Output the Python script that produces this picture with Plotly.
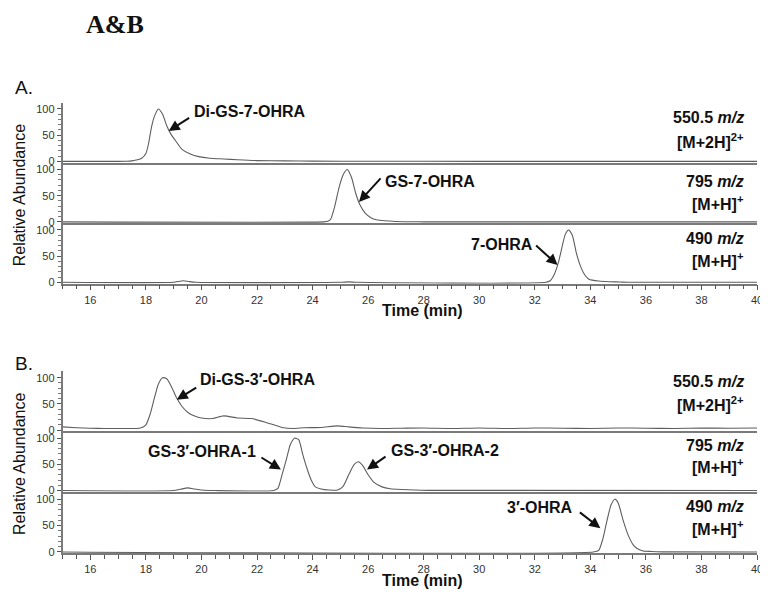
import plotly.graph_objects as go

# the page body has an 8 px margin: the figure is placed at (8, 8) in the window
OFF = 8
W, H = 768 - OFF, 595 - OFF

# ---------------- data (time in min, relative abundance in %) ----------------
time_a1 = [15, 16, 17, 17.3, 17.5, 17.7, 17.85, 18.0, 18.1, 18.2, 18.3, 18.45, 18.6, 18.75, 18.9,
           19.1, 19.3, 19.6, 19.9, 20.3, 20.8, 21.3, 22.0, 23.0, 24.0, 26, 30, 35, 40]
abund_a1 = [0, 0, 0, 0.3, 1, 3, 6, 15, 35, 65, 85, 100, 90, 68, 52,
            37, 23, 14, 9, 6, 4.5, 3, 1.5, 1, 0.5, 0.2, 0, 0, 0]

time_a2 = [15, 24.4, 24.55, 24.65, 24.8, 24.95, 25.1, 25.25, 25.4, 25.55, 25.7, 25.9, 26.1, 26.3,
           26.6, 27.0, 27.5, 28, 40]
abund_a2 = [0, 0, 1, 5, 30, 65, 90, 100, 85, 55, 33, 16, 8, 4,
            2, 0.8, 0.3, 0, 0]

time_a3 = [15, 19.0, 19.15, 19.35, 19.55, 19.8, 25.0, 25.3, 25.6, 32.4, 32.55, 32.7, 32.85, 33.0,
           33.1, 33.22, 33.35, 33.5, 33.65, 33.8, 33.95, 34.3, 34.7, 35.1, 35.5, 40]
abund_a3 = [0, 0, 1.5, 3, 1.5, 0, 0, 0.8, 0, 0, 3, 15, 38, 72,
            92, 100, 90, 55, 30, 14, 6, 2.5, 1.2, 0.5, 0, 0]

time_b1 = [15, 15.5, 16, 16.5, 17, 17.5, 17.8, 18.0, 18.15, 18.3, 18.45, 18.6, 18.75, 18.9,
           19.1, 19.3, 19.55, 19.8, 20.0, 20.4, 20.8, 21.3, 21.8, 22.3, 22.9, 23.3, 23.7,
           24.3, 24.9, 25.3, 25.8, 26.5, 27.2, 28, 29, 30, 31, 32, 33, 34, 35, 36, 37, 38, 39, 40]
abund_b1 = [6, 4.5, 3.5, 3, 3, 3, 4, 10, 30, 60, 88, 100, 98, 85,
            62, 45, 32, 26, 23, 22, 27, 23, 22, 15, 5, 3, 4.5,
            5, 8, 6, 4, 3, 3.5, 4, 3, 4, 3, 4, 3.5, 3, 4, 3.5, 3, 4, 3.5, 4]

time_b2 = [15, 19.0, 19.25, 19.5, 19.75, 20.0, 20.5, 22.6, 22.75, 22.9, 23.05, 23.2, 23.35, 23.5,
           23.65, 23.8, 23.95, 24.1, 24.3, 24.6, 24.9, 25.1, 25.3, 25.5, 25.65, 25.8, 26.0,
           26.2, 26.5, 26.8, 27.2, 27.7, 28.2, 40]
abund_b2 = [0, 0, 2.5, 5, 3, 1, 0, 0, 4, 30, 58, 88, 100, 97,
            68, 42, 20, 7, 3, 1, 1, 8, 30, 50, 55, 48, 30,
            16, 7, 3.5, 2, 1, 0.3, 0]

time_b3 = [15, 34.1, 34.3, 34.45, 34.6, 34.75, 34.88, 35.0, 35.18, 35.36, 35.55, 35.7, 35.9,
           36.2, 36.6, 40]
abund_b3 = [0, 0, 3, 25, 60, 90, 100, 93, 60, 32, 13, 6, 2,
            1, 0.3, 0]

channel_mz = ["550.5", "795", "490"]
channel_ion = ["[M+2H]<sup>2+</sup>", "[M+H]<sup>+</sup>", "[M+H]<sup>+</sup>"]

x_ticks = [16, 18, 20, 22, 24, 26, 28, 30, 32, 34, 36, 38, 40]
y_ticks = [0, 50, 100]
y_minor = [10, 20, 30, 40, 60, 70, 80, 90]

# peak labels: (subplot, text, arrow tip time, arrow tip abundance, tail dx, tail dy,
#               text x px, text y px, text anchor)
peaks = [
    (1, "Di-GS-7-OHRA", 18.82, 58, 22, -14, 193, 112, "left"),
    (2, "GS-7-OHRA", 25.67, 38, 23, -25, 386, 183, "left"),
    (3, "7-OHRA", 32.82, 33, -23, -21, 539, 247, "right"),
    (4, "Di-GS-3′-OHRA", 19.11, 58, 21, -13, 200, 383, "left"),
    (5, "GS-3′-OHRA-1", 22.86, 40, -21, -13, 260, 455, "right"),
    (5, "GS-3′-OHRA-2", 25.96, 40, 20, -14, 392, 454, "left"),
    (6, "3′-OHRA", 34.36, 45, -22, -17, 580, 512, "right"),
]

traces = [(time_a1, abund_a1), (time_a2, abund_a2), (time_a3, abund_a3),
          (time_b1, abund_b1), (time_b2, abund_b2), (time_b3, abund_b3)]

# ---------------- layout geometry (window pixels) ----------------
def px_x(p):
    return (p - OFF) / W

def px_y(p):
    return 1 - (p - OFF) / H

x_dom = [px_x(63), px_x(763)]
y_doms_px = [(103.5, 164), (164.5, 225), (225.5, 286),
             (374.5, 435), (435.5, 496), (497, 558)]
label_rows_px = [(118, 142), (183, 205), (240, 262),
                 (385, 407), (449, 470), (511, 532)]

FONT = "Liberation Sans, Arial, sans-serif"
LINE_C = "#7a7a7a"
TRACE_C = "#5e5e5e"

fig = go.Figure()
layout = dict(
    width=W, height=H, autosize=False,
    margin=dict(l=0, r=0, t=0, b=0),
    paper_bgcolor="white", plot_bgcolor="white",
    showlegend=False,
    font=dict(family=FONT, color="#111"),
)

for i, (tx, ya) in enumerate(traces):
    n = i + 1
    fig.add_trace(go.Scatter(
        x=tx, y=ya, mode="lines",
        line=dict(color=TRACE_C, width=1.1, shape="spline", smoothing=0.6),
        xaxis=f"x{n}", yaxis=f"y{n}", hoverinfo="skip",
    ))
    bottom = n in (3, 6)
    top_px, bot_px = y_doms_px[i]
    xa = dict(
        domain=x_dom, range=[15, 40], anchor=f"y{n}",
        showline=True, linecolor=LINE_C, linewidth=1.5,
        showgrid=False, zeroline=False,
        showticklabels=bottom,
        ticks="outside" if bottom else "",
        tickmode="array", tickvals=x_ticks, ticktext=[str(v) for v in x_ticks],
        ticklen=5, tickwidth=1, tickcolor="#555",
        tickfont=dict(family=FONT, size=11, color="#333"),
        ticklabeloverflow="allow",
    )
    if bottom:
        xa["minor"] = dict(dtick=0.5, tick0=15, ticks="outside", ticklen=4,
                           tickwidth=1, tickcolor="#555")
    ya_ = dict(
        domain=[px_y(bot_px), px_y(top_px)], range=[-2.5, 112], anchor=f"x{n}",
        showline=True, linecolor=LINE_C, linewidth=1.5,
        showgrid=False, zeroline=False,
        tickmode="array", tickvals=y_ticks, ticktext=[str(v) for v in y_ticks],
        ticks="outside", ticklen=4, tickwidth=1, tickcolor="#555",
        tickfont=dict(family=FONT, size=11, color="#333"),
        minor=dict(tickmode="array", tickvals=y_minor, ticks="outside",
                   ticklen=2.5, tickwidth=1, tickcolor="#777"),
    )
    layout[f"xaxis{n}" if n > 1 else "xaxis"] = xa
    layout[f"yaxis{n}" if n > 1 else "yaxis"] = ya_

fig.update_layout(**layout)

ann = []
# title and panel letters
ann.append(dict(text="<b>A&amp;B</b>", x=px_x(85), y=px_y(25), xref="paper", yref="paper",
                xanchor="left", yanchor="middle", showarrow=False,
                font=dict(family="Liberation Serif, Times New Roman, serif", size=26, color="#111")))
ann.append(dict(text="A.", x=px_x(13), y=px_y(88), xref="paper", yref="paper",
                xanchor="left", yanchor="middle", showarrow=False,
                font=dict(family=FONT, size=19, color="#111")))
ann.append(dict(text="B.", x=px_x(13), y=px_y(367), xref="paper", yref="paper",
                xanchor="left", yanchor="middle", showarrow=False,
                font=dict(family=FONT, size=19, color="#111")))

# axis titles
for yc in (197, 468):
    ann.append(dict(text="Relative Abundance", x=px_x(19), y=px_y(yc), xref="paper", yref="paper",
                    xanchor="center", yanchor="middle", textangle=-90, showarrow=False,
                    font=dict(family=FONT, size=16, color="#111")))
for yc in (313, 585):
    ann.append(dict(text="<b>Time (min)</b>", x=px_x(426), y=px_y(yc), xref="paper", yref="paper",
                    xanchor="center", yanchor="middle", showarrow=False,
                    font=dict(family=FONT, size=16, color="#111")))

# channel labels on the right
for i, (r1, r2) in enumerate(label_rows_px):
    k = i % 3
    ann.append(dict(text=f"<b>{channel_mz[k]} <i>m/z</i></b>", x=px_x(752), y=px_y(r1),
                    xref="paper", yref="paper", xanchor="right", yanchor="middle",
                    showarrow=False, font=dict(family=FONT, size=16, color="#111")))
    ann.append(dict(text=f"<b>{channel_ion[k]}</b>", x=px_x(752), y=px_y(r2),
                    xref="paper", yref="paper", xanchor="right", yanchor="middle",
                    showarrow=False, font=dict(family=FONT, size=16, color="#111")))

# peak labels and arrows
for (n, text, tt, tv, dx, dy, lx, ly, anc) in peaks:
    ann.append(dict(text="", x=tt, y=tv, xref=f"x{n}", yref=f"y{n}",
                    showarrow=True, ax=dx, ay=dy, axref="pixel", ayref="pixel",
                    arrowhead=2, arrowsize=1.1, arrowwidth=2, arrowcolor="#111"))
    ann.append(dict(text=f"<b>{text}</b>", x=px_x(lx), y=px_y(ly), xref="paper", yref="paper",
                    xanchor=anc, yanchor="middle", showarrow=False,
                    font=dict(family=FONT, size=16, color="#111")))

fig.update_layout(annotations=ann)
fig.write_html("out.html")
